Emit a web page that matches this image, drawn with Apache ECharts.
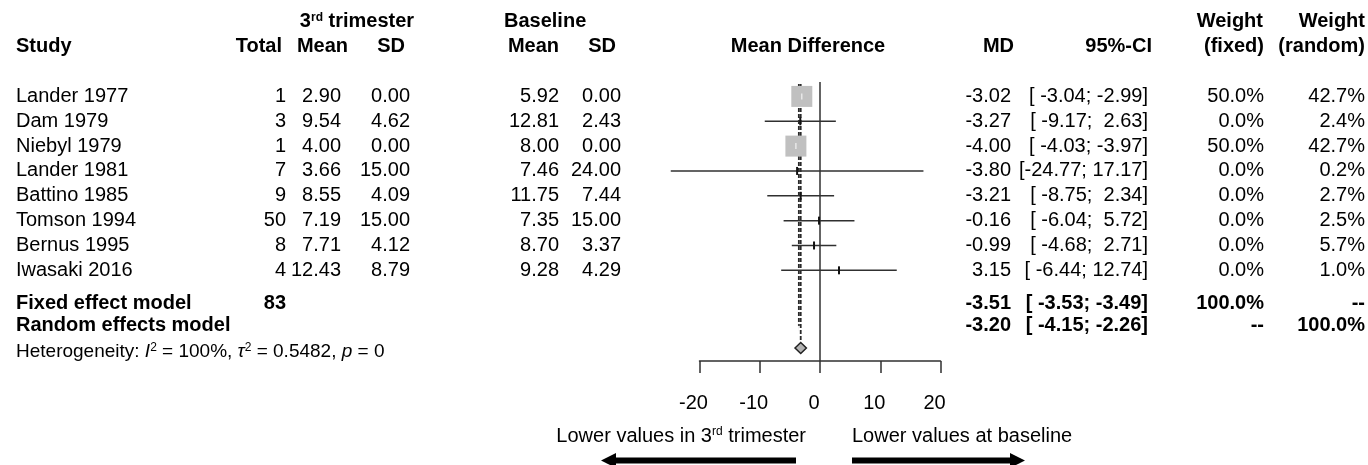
<!DOCTYPE html>
<html><head><meta charset="utf-8">
<script src="https://cdn.jsdelivr.net/npm/echarts@6/dist/echarts.min.js"></script>
<style>html,body{margin:0;padding:0;background:#fff}#c{width:1368px;height:465px}</style>
</head><body><div id="c"></div>
<script>
// ---------------- data ----------------
const studies   = ['Lander 1977','Dam 1979','Niebyl 1979','Lander 1981','Battino 1985','Tomson 1994','Bernus 1995','Iwasaki 2016'];
const total     = [1, 3, 1, 7, 9, 50, 8, 4];
const meanT3    = [2.90, 9.54, 4.00, 3.66, 8.55, 7.19, 7.71, 12.43];
const sdT3      = [0.00, 4.62, 0.00, 15.00, 4.09, 15.00, 4.12, 8.79];
const meanBase  = [5.92, 12.81, 8.00, 7.46, 11.75, 7.35, 8.70, 9.28];
const sdBase    = [0.00, 2.43, 0.00, 24.00, 7.44, 15.00, 3.37, 4.29];
const md        = [-3.02, -3.27, -4.00, -3.80, -3.21, -0.16, -0.99, 3.15];
const ciLow     = [-3.04, -9.17, -4.03, -24.77, -8.75, -6.04, -4.68, -6.44];
const ciHigh    = [-2.99, 2.63, -3.97, 17.17, 2.34, 5.72, 2.71, 12.74];
const wFixed    = [50.0, 0.0, 50.0, 0.0, 0.0, 0.0, 0.0, 0.0];
const wRandom   = [42.7, 2.4, 42.7, 0.2, 2.7, 2.5, 5.7, 1.0];
const fixedModel  = {total: 83, md: -3.51, lo: -3.53, hi: -3.49, wF: 100.0, wR: null};
const randomModel = {md: -3.20, lo: -4.15, hi: -2.26, wF: null, wR: 100.0};
const heterogeneity = {I2: '100%', tau2: '0.5482', p: '0'};
const xTicks = [-20, -10, 0, 10, 20];

// ---------------- layout ----------------
const FONT = '"Liberation Sans", Arial, Helvetica, sans-serif';
const FS = 20;
const ROW = {h1: -3.0, h2: -2.03, fixed: 8.315, random: 9.24, diamond: 10.13, het: 10.29, top: -0.58, dashTop: -0.5};
const COL = {study: 16, total: 286, mT3: 341, sdT3: 410, mB: 559, sdB: 621, md: 1011, ci: 1148, wF: 1264, wR: 1365};

const f2 = v => v.toFixed(2);
const pad6 = s => { while (s.length < 6) s = ' ' + s; return s; };
const ciStr = (l, h) => '[' + pad6(f2(l)) + ';' + pad6(f2(h)) + ']';
const pct = v => v == null ? '--' : v.toFixed(1) + '%';

// table cells built from the arrays
const cells = [];
function cell(row, x, text, align, bold, rich) { cells.push({row, x, text, align: align || 'right', bold: !!bold, rich}); }
// headers
cell(ROW.h1, 357, '3{sb|rd} trimester', 'center', true);
cell(ROW.h1, 504, 'Baseline', 'left', true);
cell(ROW.h1, 1263, 'Weight', 'right', true);
cell(ROW.h1, 1365, 'Weight', 'right', true);
cell(ROW.h2, COL.study, 'Study', 'left', true);
cell(ROW.h2, 282, 'Total', 'right', true);
cell(ROW.h2, 348, 'Mean', 'right', true);
cell(ROW.h2, 405, 'SD', 'right', true);
cell(ROW.h2, 559, 'Mean', 'right', true);
cell(ROW.h2, 616, 'SD', 'right', true);
cell(ROW.h2, 808, 'Mean Difference', 'center', true);
cell(ROW.h2, 1014, 'MD', 'right', true);
cell(ROW.h2, 1152, '95%-CI', 'right', true);
cell(ROW.h2, 1264, '(fixed)', 'right', true);
cell(ROW.h2, 1365, '(random)', 'right', true);
// studies
studies.forEach((s, i) => {
  cell(i, COL.study, s, 'left');
  cell(i, COL.total, String(total[i]));
  cell(i, COL.mT3, f2(meanT3[i]));
  cell(i, COL.sdT3, f2(sdT3[i]));
  cell(i, COL.mB, f2(meanBase[i]));
  cell(i, COL.sdB, f2(sdBase[i]));
  cell(i, COL.md, f2(md[i]));
  cell(i, COL.ci, ciStr(ciLow[i], ciHigh[i]));
  cell(i, COL.wF, pct(wFixed[i]));
  cell(i, COL.wR, pct(wRandom[i]));
});
// models
cell(ROW.fixed, COL.study, 'Fixed effect model', 'left', true);
cell(ROW.fixed, COL.total, String(fixedModel.total), 'right', true);
cell(ROW.fixed, COL.md, f2(fixedModel.md), 'right', true);
cell(ROW.fixed, COL.ci, ciStr(fixedModel.lo, fixedModel.hi), 'right', true);
cell(ROW.fixed, COL.wF, pct(fixedModel.wF), 'right', true);
cell(ROW.fixed, COL.wR, pct(fixedModel.wR), 'right', true);
cell(ROW.random, COL.study, 'Random effects model', 'left', true);
cell(ROW.random, COL.md, f2(randomModel.md), 'right', true);
cell(ROW.random, COL.ci, ciStr(randomModel.lo, randomModel.hi), 'right', true);
cell(ROW.random, COL.wF, pct(randomModel.wF), 'right', true);
cell(ROW.random, COL.wR, pct(randomModel.wR), 'right', true);
cell(ROW.het, COL.study,
  'Heterogeneity: {it|I}{sup|2} = ' + heterogeneity.I2 + ', {it|τ}{sup|2} = ' + heterogeneity.tau2 + ', {it|p} = ' + heterogeneity.p,
  'left', false, 'het');

const LINE = '#303030';

const chart = echarts.init(document.getElementById('c'), null, {renderer: 'canvas'});
chart.setOption({
  animation: false,
  backgroundColor: '#fff',
  grid: {left: 699.5, right: 427.5, top: 84, height: 277},
  xAxis: {
    type: 'value', position: 'bottom', min: xTicks[0], max: xTicks[xTicks.length - 1], interval: 10,
    axisLine: {show: true, onZero: false, lineStyle: {color: LINE, width: 1.5}},
    axisTick: {show: true, length: 12, lineStyle: {color: LINE, width: 1.5}},
    splitLine: {show: false},
    axisLabel: {fontSize: FS, fontFamily: FONT, color: '#000', margin: 32, padding: [0, 12, 0, 0]}
  },
  yAxis: {type: 'value', inverse: true, min: -0.5, max: 10.65, show: false},
  series: [
    { // reference lines (zero line, pooled dashed lines)
      type: 'custom', clip: false, silent: true, z: 1,
      encode: {x: 0, y: 1},
      data: [[0, ROW.top, 0], [fixedModel.md, ROW.dashTop, 1], [randomModel.md, ROW.dashTop, 2]],
      renderItem(params, api) {
        const k = api.value(2);
        const x = api.value(0);
        const p0 = api.coord([x, api.value(1)]);
        let yEnd;
        if (k === 0) yEnd = api.coord([0, 10.65])[1];
        else if (k === 1) yEnd = api.coord([x, ROW.random])[1];
        else yEnd = api.coord([x, ROW.diamond])[1] - 6;
        return {type: 'line', shape: {x1: p0[0], y1: p0[1], x2: p0[0], y2: yEnd},
          style: k === 0 ? {stroke: LINE, lineWidth: 1.5}
                         : {stroke: '#2a2a2a', lineWidth: 1.8, lineDash: [4, 2]}};
      }
    },
    { // study CIs, squares
      type: 'custom', clip: false, silent: true, z: 2,
      encode: {x: 0, y: 1},
      data: studies.map((s, i) => [md[i], i, ciLow[i], ciHigh[i], wFixed[i]]),
      renderItem(params, api) {
        const row = api.value(1), m = api.value(0), w = api.value(4);
        const c = api.coord([m, row]);
        const a = api.coord([api.value(2), row]);
        const b = api.coord([api.value(3), row]);
        const ch = [{type: 'line', shape: {x1: a[0], y1: a[1], x2: b[0], y2: b[1]}, style: {stroke: LINE, lineWidth: 1.5}}];
        if (w > 0) {
          const s = 21 * Math.sqrt(w / 50);
          ch.push({type: 'rect', shape: {x: c[0] - s / 2, y: c[1] - s / 2, width: s, height: s}, style: {fill: '#c0c0c0'}});
          ch.push({type: 'line', shape: {x1: c[0], y1: c[1] - 3, x2: c[0], y2: c[1] + 3}, style: {stroke: '#f2f2f2', lineWidth: 1.2}});
        } else {
          ch.push({type: 'line', shape: {x1: c[0], y1: c[1] - 4, x2: c[0], y2: c[1] + 4}, style: {stroke: '#111', lineWidth: 2}});
        }
        return {type: 'group', children: ch};
      }
    },
    { // pooled diamonds
      type: 'custom', clip: false, silent: true, z: 3,
      encode: {x: 0, y: 1},
      data: [[fixedModel.md, ROW.random, fixedModel.lo, fixedModel.hi, 0], [randomModel.md, ROW.diamond, randomModel.lo, randomModel.hi, 1]],
      renderItem(params, api) {
        const row = api.value(1);
        const c = api.coord([api.value(0), row]);
        const a = api.coord([api.value(2), row]);
        const b = api.coord([api.value(3), row]);
        const h = 5.5;
        const stroked = api.value(4) === 1;
        return {type: 'polygon', shape: {points: [[a[0], c[1]], [c[0], c[1] - h], [b[0], c[1]], [c[0], c[1] + h]]},
          style: {fill: '#b3b3b3', stroke: stroked ? '#222' : null, lineWidth: 1.5}};
      }
    },
    { // table text
      type: 'custom', clip: false, silent: true, z: 5,
      encode: {x: 0, y: 1},
      data: cells.map((c, i) => [0, c.row, i]),
      renderItem(params, api) {
        const c = cells[api.value(2)];
        const y = api.coord([0, api.value(1)])[1];
        const weight = c.bold ? 'bold' : 'normal';
        const size = c.rich === 'het' ? 19 : FS;
        return {type: 'text', x: c.x, y: y,
          style: {text: c.text, align: c.align, verticalAlign: 'middle',
            fontFamily: FONT, fontSize: size, fontWeight: weight, fill: '#000',
            rich: {
              sb: {fontSize: 12, fontWeight: 'bold', fontFamily: FONT, verticalAlign: 'top', lineHeight: 20, fill: '#000'},
              sup: {fontSize: 12, fontFamily: FONT, verticalAlign: 'top', lineHeight: 20, fill: '#000'},
              it: {fontSize: size, fontStyle: 'italic', fontFamily: FONT, lineHeight: 20, fill: '#000'}
            }}};
      }
    }
  ],
  graphic: [
    {type: 'text', x: 806, y: 436, silent: true,
      style: {text: 'Lower values in 3{sup|rd} trimester', align: 'right', verticalAlign: 'middle',
        fontFamily: FONT, fontSize: FS, fill: '#000',
        rich: {sup: {fontSize: 12, fontFamily: FONT, verticalAlign: 'top', lineHeight: 20, fill: '#000'}}}},
    {type: 'text', x: 852, y: 436, silent: true,
      style: {text: 'Lower values at baseline', align: 'left', verticalAlign: 'middle',
        fontFamily: FONT, fontSize: FS, fill: '#000'}},
    {type: 'polygon', silent: true,
      shape: {points: [[796, 457.5], [616, 457.5], [616, 453], [601, 460.5], [616, 468], [616, 463.5], [796, 463.5]]},
      style: {fill: '#000'}},
    {type: 'polygon', silent: true,
      shape: {points: [[852, 457.5], [1010, 457.5], [1010, 453], [1025, 460.5], [1010, 468], [1010, 463.5], [852, 463.5]]},
      style: {fill: '#000'}}
  ]
});
</script>
</body></html>
